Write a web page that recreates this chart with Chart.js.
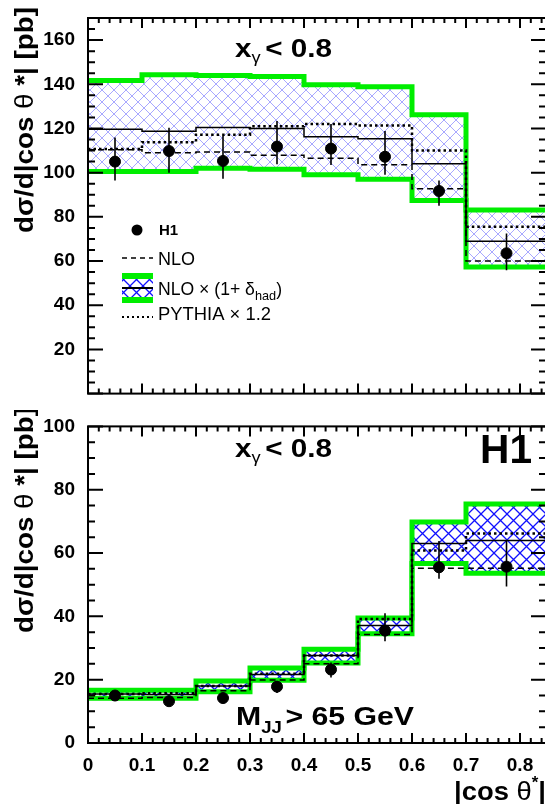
<!DOCTYPE html>
<html lang="en">
<head>
<meta charset="UTF-8">
<script src="https://cdn.jsdelivr.net/npm/chart.js"></script>
<title>H1 dijet |cos theta*|</title>
<style>
    * { margin: 0; padding: 0; box-sizing: border-box; }
    body { position: relative; width: 545px; height: 804px; overflow: hidden; background: #fff; }
    canvas { position: absolute; left: 0; }
</style>
</head>
<body>
<canvas id="topPanel" width="560" height="410" style="top:0"></canvas>
<canvas id="bottomPanel" width="560" height="394" style="top:410px"></canvas>
<script>
// bins in |cos theta*|
const binEdges = [0, 0.1, 0.2, 0.3, 0.4, 0.5, 0.6, 0.7, 0.85];
const binCenters = [0.05, 0.15, 0.25, 0.35, 0.45, 0.55, 0.65, 0.775];

// upper panel: x_gamma < 0.8
const topH1 = [105, 109.8, 105.3, 111.8, 110.9, 107.2, 91.7, 63.5];
const topErrUp = [10.9, 10.5, 11.3, 11.6, 11.1, 11.6, 4.7, 9];
const topErrDn = [8.6, 9.8, 8.1, 8.0, 7.4, 8.2, 6.7, 7.7];
const topBandHi = [141.7, 144.3, 144, 143.5, 139.8, 138.9, 126.2, 83.1];
const topBandLo = [100.5, 100.5, 102, 101.5, 99, 97, 87.4, 57.3];
const topNloHad = [119.7, 118.7, 120.4, 120, 116.2, 115.3, 104, 69];
const topNlo = [110.4, 109, 109.4, 107.9, 106.5, 103.6, 92.7, 60];
const topPythia = [110.7, 113.8, 117.2, 121, 122, 121.3, 110, 75.5];

// lower panel: x_gamma < 0.8, M_JJ > 65 GeV
const botH1 = [15, 13.2, 14.2, 17.8, 23.2, 35.5, 55.5, 55.7];
const botErrUp = [1, 1, 1.2, 1.8, 2.2, 5.5, 8.3, 8.2];
const botErrDn = [1, 1, 1.2, 2, 2.5, 3.4, 3.6, 6.3];
const botBandHi = [16.7, 16.7, 19.6, 23.7, 29.6, 39.5, 69.8, 75.5];
const botBandLo = [14.1, 14.1, 16.2, 19.8, 25.3, 34.5, 56.7, 53.6];
const botNloHad = [15.5, 15.3, 18, 21.6, 27.6, 37.1, 63, 64];
const botNlo = [14.1, 14.4, 16.5, 19.9, 25, 34.3, 55.2, 55.2];
const botPythia = [15.5, 15.7, 18, 21.9, 27.6, 39.2, 60.8, 66.2];

const yTickStep = 20;

const GREEN = '#00ee00';
const B = s => `bold ${s}px "Liberation Sans", Arial, sans-serif`;
const R = s => `${s}px "Liberation Sans", Arial, sans-serif`;

const toSteps = vals => binEdges.map((x, i) => ({ x, y: vals[Math.min(i, vals.length - 1)] }));
const toPoints = vals => binCenters.map((x, i) => ({ x, y: vals[i] }));

function hatch(color, size, width) {
    const c = document.createElement('canvas');
    c.width = c.height = size;
    const g = c.getContext('2d');
    g.strokeStyle = color;
    g.lineWidth = width;
    g.beginPath();
    g.moveTo(0, 0); g.lineTo(size, size);
    g.moveTo(size, 0); g.lineTo(0, size);
    g.stroke();
    return g.createPattern(c, 'repeat');
}

// draw a run of text pieces, squeezed/stretched to a given width
function drawText(ctx, x, y, parts, width) {
    let total = 0;
    parts.forEach(p => { ctx.font = p.f; p.w = ctx.measureText(p.t).width; total += p.w + (p.gap || 0); });
    const sx = width ? width / total : 1;
    ctx.save();
    ctx.translate(x, y);
    ctx.scale(sx, 1);
    ctx.fillStyle = '#000';
    let cx = 0;
    parts.forEach(p => { ctx.font = p.f; ctx.fillText(p.t, cx, p.dy || 0); cx += p.w + (p.gap || 0); });
    ctx.restore();
}

function yTitle(ctx, xBase, yStart) {
    ctx.save();
    ctx.translate(xBase, yStart);
    ctx.rotate(-Math.PI / 2);
    drawText(ctx, 0, 0, [
        { t: 'dσ/d|cos ', f: B(26) },
        { t: 'θ', f: R(26) },
        { t: ' *| [pb]', f: B(26) }
    ], 226);
    ctx.restore();
}

function histDatasets(hi, lo, nloHad, nlo, pythia, h1, pattern) {
    // Chart.js 'before': horizontal at the previous point's value, then the step
    const line = { type: 'line', stepped: 'before', pointRadius: 0, borderCapStyle: 'butt', borderJoinStyle: 'miter' };
    return [
        { ...line, data: toSteps(hi), borderColor: GREEN, borderWidth: 5, fill: '+1', backgroundColor: pattern, order: 6 },
        { ...line, data: toSteps(lo), borderColor: GREEN, borderWidth: 5, fill: false, order: 7 },
        { ...line, data: toSteps(nloHad), borderColor: '#000', borderWidth: 1.5, fill: false, order: 4 },
        { ...line, data: toSteps(nlo), borderColor: '#000', borderWidth: 1.5, borderDash: [6, 4], fill: false, order: 3 },
        { ...line, data: toSteps(pythia), borderColor: '#000', borderWidth: 2.5, borderDash: [2.5, 3], fill: false, order: 2 },
        { type: 'line', showLine: false, data: toPoints(h1), pointRadius: 5.5, pointBackgroundColor: '#000', pointBorderColor: '#000', order: 1 }
    ];
}

function options(ymax, showX, xHeight, skipZero) {
    return {
        responsive: false,
        animation: false,
        layout: { padding: { left: 0, right: 13, top: showX ? 10 : 18, bottom: 0 } },
        plugins: {
            legend: { display: false },
            tooltip: { enabled: false },
            filler: { drawTime: 'beforeDatasetsDraw' }
        },
        scales: {
            x: {
                type: 'linear', min: 0, max: 0.85,
                grid: { display: false }, border: { display: false },
                ticks: { display: showX, stepSize: 0.1, includeBounds: false, autoSkip: false, maxRotation: 0,
                         padding: 3, color: '#000', font: { family: '"Liberation Sans", Arial, sans-serif', size: 19, weight: 'bold' } },
                afterFit: s => { s.height = xHeight; }
            },
            y: {
                min: 0, max: ymax,
                grid: { display: false }, border: { display: false },
                ticks: { stepSize: yTickStep, includeBounds: false, padding: 5, color: '#000',
                         font: { family: '"Liberation Sans", Arial, sans-serif', size: 19, weight: 'bold' },
                         callback: v => (skipZero && v === 0) ? '' : v },
                afterFit: s => { s.width = 88; }
            }
        }
    };
}

// frame with inward ticks on all four sides
const frameTicks = {
    id: 'frameTicks',
    afterDatasetsDraw(chart) {
        const { ctx, chartArea: a, scales: { x, y } } = chart;
        ctx.save();
        ctx.strokeStyle = '#000';
        ctx.lineWidth = 2;
        ctx.strokeRect(a.left, a.top, a.right - a.left, a.bottom - a.top);
        ctx.beginPath();
        for (let i = 0; i <= 42; i++) {
            const px = x.getPixelForValue(i * 0.02);
            const len = i % 5 === 0 ? 10 : 5;
            ctx.moveTo(px, a.bottom); ctx.lineTo(px, a.bottom - len);
            ctx.moveTo(px, a.top); ctx.lineTo(px, a.top + len);
        }
        for (let v = 0; v <= y.max; v += 5) {
            const py = y.getPixelForValue(v);
            const major = v % yTickStep === 0;
            ctx.moveTo(a.left, py); ctx.lineTo(a.left + (major ? 15 : 7), py);
            ctx.moveTo(a.right, py); ctx.lineTo(a.right - (major ? 16 : 8), py);
        }
        ctx.stroke();
        ctx.restore();
    }
};

function errorBars(vals, up, dn) {
    return {
        id: 'errorBars',
        afterDatasetsDraw(chart) {
            const { ctx, scales: { x, y } } = chart;
            ctx.save();
            ctx.strokeStyle = '#000';
            ctx.lineWidth = 1.6;
            ctx.beginPath();
            binCenters.forEach((c, i) => {
                const px = x.getPixelForValue(c);
                ctx.moveTo(px, y.getPixelForValue(vals[i] + up[i]));
                ctx.lineTo(px, y.getPixelForValue(vals[i] - dn[i]));
            });
            ctx.stroke();
            ctx.restore();
        }
    };
}

const topPattern = hatch('rgba(110,110,255,0.6)', 12, 1);
const botPattern = hatch('#1010ff', 13, 1.3);

const topNotes = {
    id: 'topNotes',
    afterDraw(chart) {
        const ctx = chart.ctx;
        yTitle(ctx, 33, 233);
        drawText(ctx, 235, 57, [
            { t: 'x', f: B(26) }, { t: 'γ', f: R(16), dy: 6, gap: 4 }, { t: '< 0.8', f: B(26) }
        ], 97);

        // legend
        ctx.save();
        ctx.fillStyle = '#000';
        ctx.beginPath(); ctx.arc(137, 230, 5.5, 0, Math.PI * 2); ctx.fill();
        ctx.strokeStyle = '#000';
        ctx.lineWidth = 1.5; ctx.setLineDash([5, 4]);
        ctx.beginPath(); ctx.moveTo(122, 258); ctx.lineTo(153, 258); ctx.stroke();
        ctx.fillStyle = GREEN; ctx.fillRect(122, 273, 31, 30);
        ctx.fillStyle = '#fff'; ctx.fillRect(122, 279, 31, 18);
        ctx.fillStyle = botPattern; ctx.fillRect(122, 279, 31, 18);
        ctx.setLineDash([]); ctx.lineWidth = 2;
        ctx.beginPath(); ctx.moveTo(122, 288); ctx.lineTo(153, 288); ctx.stroke();
        ctx.setLineDash([2, 3]);
        ctx.beginPath(); ctx.moveTo(122, 317); ctx.lineTo(153, 317); ctx.stroke();
        ctx.restore();

        drawText(ctx, 159, 235, [{ t: 'H1', f: B(15) }]);
        drawText(ctx, 158, 265, [{ t: 'NLO', f: R(18) }]);
        drawText(ctx, 158, 295, [
            { t: 'NLO × (1+ δ', f: R(18) }, { t: 'had', f: R(13), dy: 5 }, { t: ')', f: R(18) }
        ], 124);
        drawText(ctx, 158, 320, [{ t: 'PYTHIA × 1.2', f: R(18) }], 113);
    }
};

const botNotes = {
    id: 'botNotes',
    afterDraw(chart) {
        const ctx = chart.ctx;
        yTitle(ctx, 33, 223);
        drawText(ctx, 235, 47, [
            { t: 'x', f: B(26) }, { t: 'γ', f: R(16), dy: 6, gap: 4 }, { t: '< 0.8', f: B(26) }
        ], 97);
        drawText(ctx, 480, 53, [{ t: 'H1', f: B(41) }], 52);
        drawText(ctx, 236, 315, [
            { t: 'M', f: B(26) }, { t: 'JJ', f: B(16), dy: 8, gap: 3 }, { t: '> 65 GeV', f: B(26) }
        ], 178);
        drawText(ctx, 454, 390, [
            { t: '|cos ', f: B(26) }, { t: 'θ', f: R(26) }, { t: '*', f: B(16), dy: -12 }, { t: '|', f: B(26) }
        ], 92);
    }
};

new Chart(document.getElementById('topPanel'), {
    type: 'line',
    data: { datasets: histDatasets(topBandHi, topBandLo, topNloHad, topNlo, topPythia, topH1, topPattern) },
    options: options(170, false, 7, true),
    plugins: [frameTicks, errorBars(topH1, topErrUp, topErrDn), topNotes]
});

new Chart(document.getElementById('bottomPanel'), {
    type: 'line',
    data: { datasets: histDatasets(botBandHi, botBandLo, botNloHad, botNlo, botPythia, botH1, botPattern) },
    options: options(100, true, 61, false),
    plugins: [frameTicks, errorBars(botH1, botErrUp, botErrDn), botNotes]
});
</script>
</body>
</html>
